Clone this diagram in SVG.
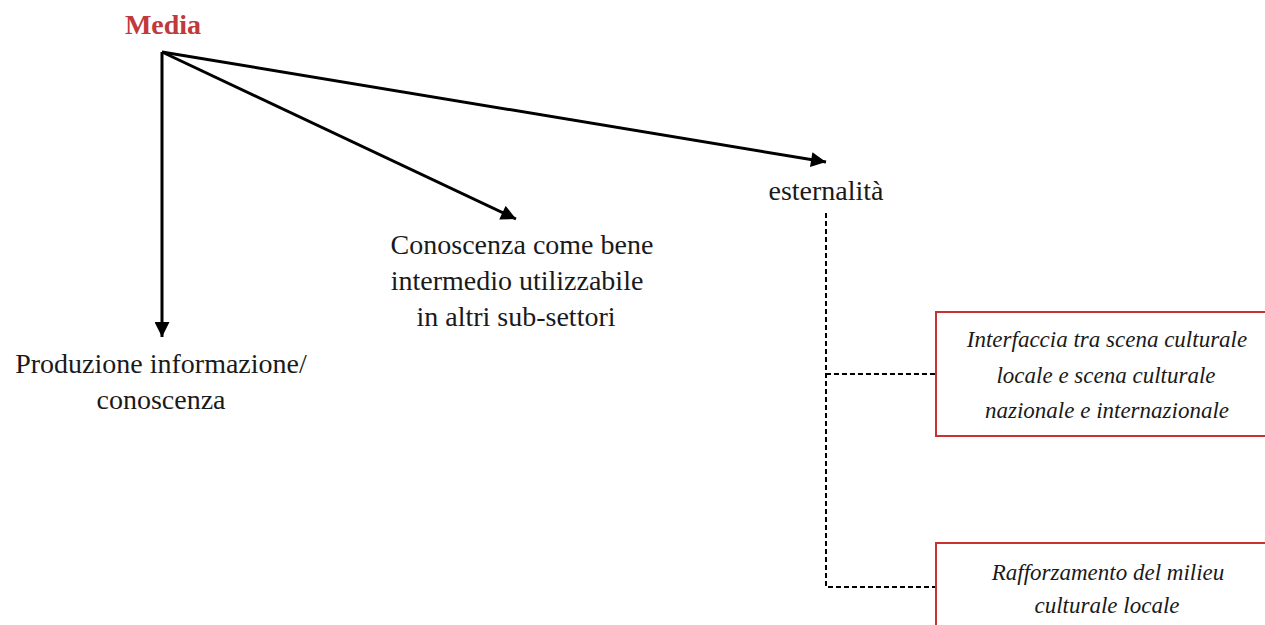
<svg xmlns="http://www.w3.org/2000/svg" width="1265" height="625" viewBox="0 0 1265 625">
  <style>
    .arrow { stroke: #000; stroke-width: 3; fill: none; }
    .dash { stroke: #000; stroke-width: 2; stroke-dasharray: 5 3; fill: none; }
    .box { fill: #fff; stroke: #c83232; stroke-width: 2; }
  </style>
  <defs>
    <marker id="head" viewBox="0 0 10 10" refX="10" refY="5" markerWidth="5.5" markerHeight="5" markerUnits="strokeWidth" orient="auto">
      <path d="M0,0 L10,5 L0,10 Z" fill="#000"/>
    </marker>
  </defs>
  <rect width="1265" height="625" fill="#fff"/>

  <!-- arrows from the top label and the dashed branch lines -->
  <g id="connectors">
    <line class="arrow" x1="162" y1="52" x2="162" y2="337" marker-end="url(#head)"/>
    <line class="arrow" x1="162" y1="52" x2="516" y2="219" marker-end="url(#head)"/>
    <line class="arrow" x1="162" y1="52" x2="826" y2="162" marker-end="url(#head)"/>
    <path class="dash" d="M826,213 V587 H936"/>
    <path class="dash" d="M826,374 H936"/>
  </g>

  <g id="media">
    <text x="163" y="34" font-family="Liberation Serif" font-size="28" font-weight="bold" text-anchor="middle" fill="#c0393b">Media</text>
  </g>

  <g id="produzione">
    <text x="161" y="373" font-family="Liberation Serif" font-size="28" text-anchor="middle" fill="#1a1a1a">Produzione informazione/</text>
    <text x="161" y="409" font-family="Liberation Serif" font-size="28" text-anchor="middle" fill="#1a1a1a">conoscenza</text>
  </g>

  <g id="conoscenza">
    <text x="522" y="254" font-family="Liberation Serif" font-size="28" text-anchor="middle" fill="#1a1a1a">Conoscenza come bene</text>
    <text x="517" y="290" font-family="Liberation Serif" font-size="28" text-anchor="middle" fill="#1a1a1a">intermedio utilizzabile</text>
    <text x="516" y="326" font-family="Liberation Serif" font-size="28" text-anchor="middle" fill="#1a1a1a">in altri sub-settori</text>
  </g>

  <g id="esternalita">
    <text x="826" y="200" font-family="Liberation Serif" font-size="28" text-anchor="middle" fill="#1a1a1a">esternalità</text>
  </g>

  <g id="interfaccia">
    <rect class="box" x="936" y="312" width="340" height="124"/>
    <text x="1107" y="347" font-family="Liberation Serif" font-size="23" font-style="italic" text-anchor="middle" fill="#1a1a1a">Interfaccia tra scena culturale</text>
    <text x="1106" y="383" font-family="Liberation Serif" font-size="23" font-style="italic" text-anchor="middle" fill="#1a1a1a">locale e scena culturale</text>
    <text x="1107" y="418" font-family="Liberation Serif" font-size="23" font-style="italic" text-anchor="middle" fill="#1a1a1a">nazionale e internazionale</text>
  </g>

  <g id="rafforzamento">
    <rect class="box" x="936" y="543" width="340" height="100"/>
    <text x="1108" y="580" font-family="Liberation Serif" font-size="23" font-style="italic" text-anchor="middle" fill="#1a1a1a">Rafforzamento del milieu</text>
    <text x="1107" y="613" font-family="Liberation Serif" font-size="23" font-style="italic" text-anchor="middle" fill="#1a1a1a">culturale locale</text>
  </g>
</svg>
